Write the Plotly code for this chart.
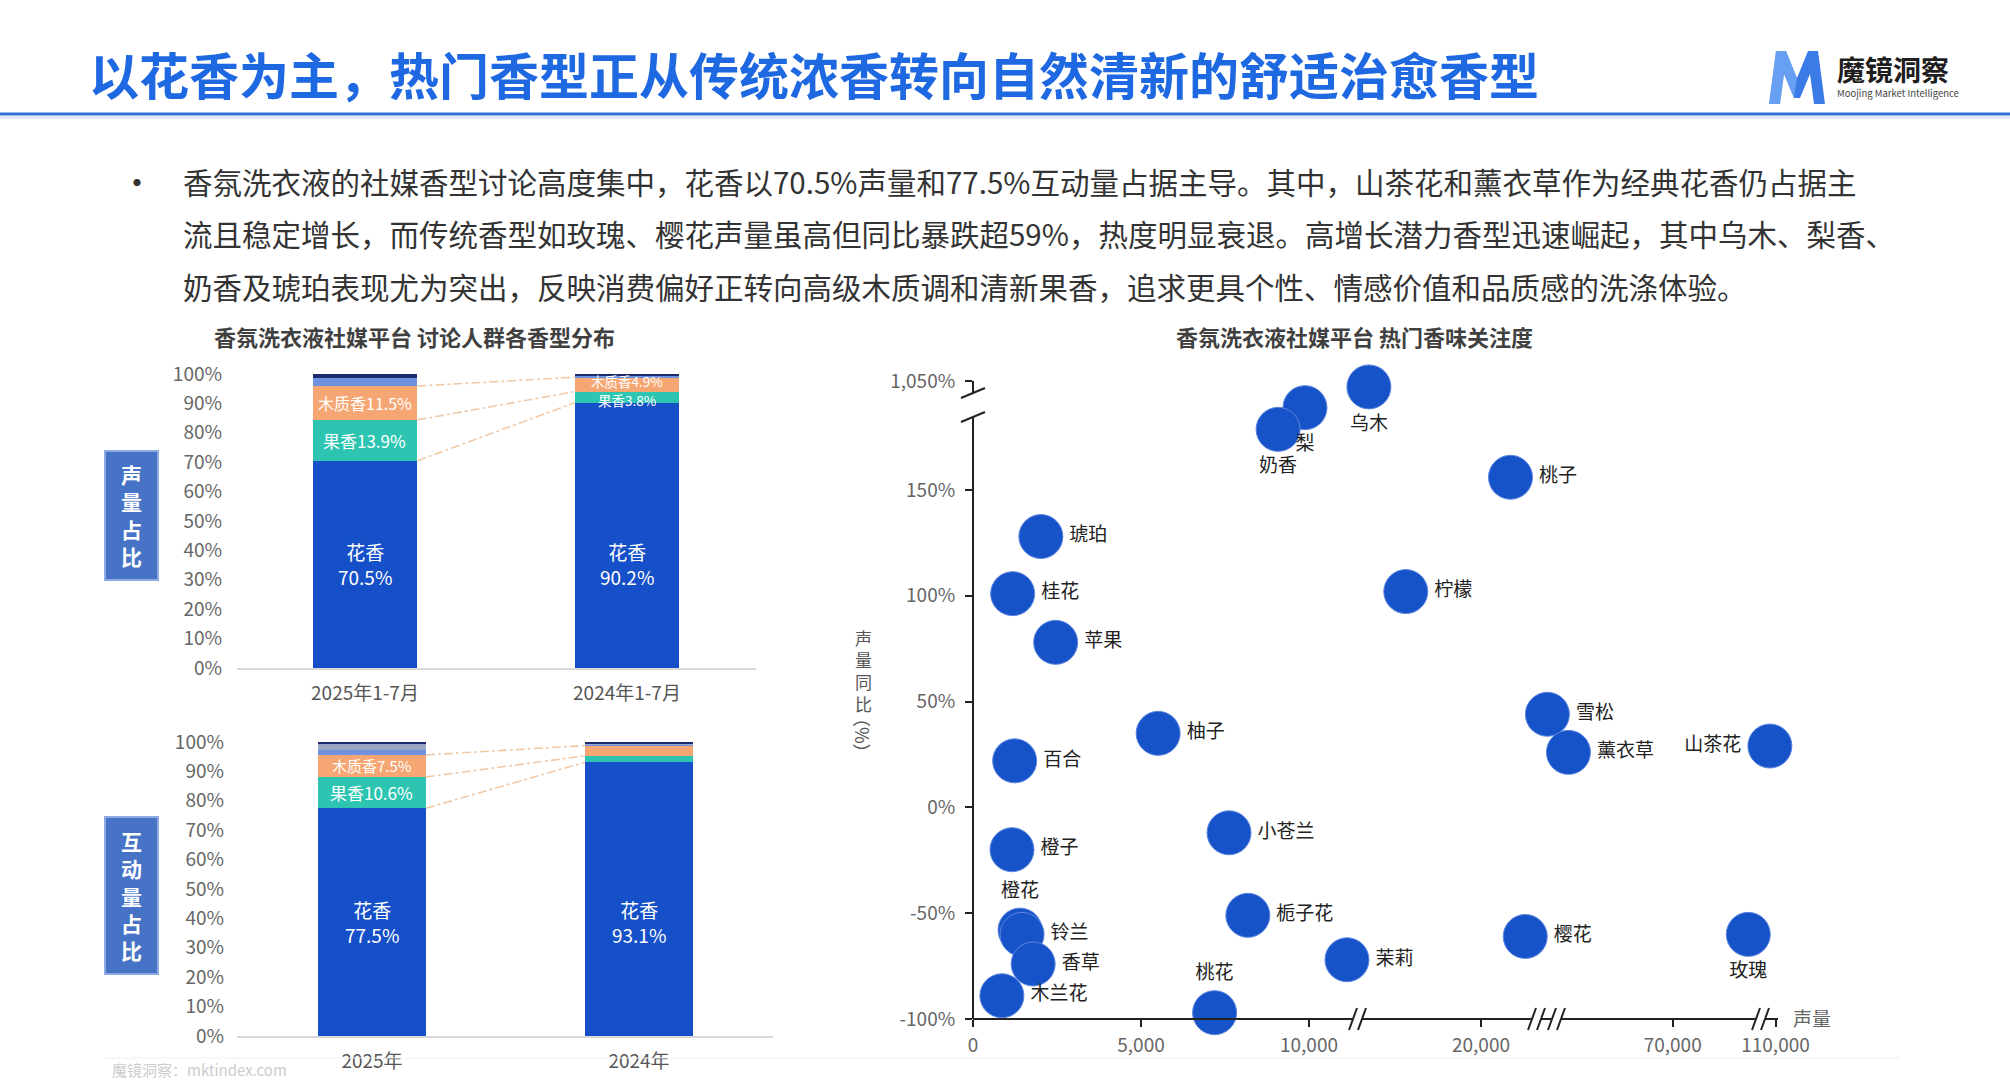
import plotly.graph_objects as go

W, H = 2010, 1080
FONT = "Noto Sans CJK SC"


def px(x):
    return x / W


def py(y):
    return 1 - y / H


# ------------------------------------------------------------------ data
title_text = "以花香为主，热门香型正从传统浓香转向自然清新的舒适治愈香型"
bullet_lines = [
    "香氛洗衣液的社媒香型讨论高度集中，花香以70.5%声量和77.5%互动量占据主导。其中，山茶花和薰衣草作为经典花香仍占据主",
    "流且稳定增长，而传统香型如玫瑰、樱花声量虽高但同比暴跌超59%，热度明显衰退。高增长潜力香型迅速崛起，其中乌木、梨香、",
    "奶香及琥珀表现尤为突出，反映消费偏好正转向高级木质调和清新果香，追求更具个性、情感价值和品质感的洗涤体验。",
]

left_title = "香氛洗衣液社媒平台 讨论人群各香型分布"
right_title = "香氛洗衣液社媒平台 热门香味关注度"

segment_names = ["花香", "果香", "木质香", "其他1", "其他2", "其他3"]

periods_voice = ["2025年1-7月", "2024年1-7月"]
voice_floral = [70.5, 90.2]
voice_fruity = [13.9, 3.8]
voice_woody = [11.5, 4.9]
voice_other1 = [2.9, 0.3]
voice_other2 = [0.0, 0.0]
voice_other3 = [1.2, 0.8]

periods_inter = ["2025年", "2024年"]
inter_floral = [77.5, 93.1]
inter_fruity = [10.6, 2.2]
inter_woody = [7.5, 3.5]
inter_other1 = [1.8, 0.2]
inter_other2 = [1.8, 0.6]
inter_other3 = [0.8, 0.4]

pct_ticks = [0, 10, 20, 30, 40, 50, 60, 70, 80, 90, 100]

scent_names = ["乌木", "梨", "奶香", "桃子", "琥珀", "桂花", "柠檬", "苹果", "雪松", "柚子",
               "山茶花", "薰衣草", "百合", "小苍兰", "橙子", "栀子花", "樱花", "玫瑰",
               "橙花", "铃兰", "香草", "茉莉", "木兰花", "桃花"]
scent_volume = [12400, 9880, 9080, 22000, 2020, 1180, 14900, 2460, 24500, 5510,
                108500, 42000, 1240, 7620, 1160, 8180, 23000, 90300,
                1400, 1460, 1790, 11130, 860, 7190]
scent_yoy = [990, 780, 560, 156, 128, 101, 102, 78, 44, 35,
             29, 26, 22, -12, -20, -51, -61, -60,
             -58, -60, -74, -72, -89, -97]

x_tick_values = [0, 5000, 10000, 20000, 70000, 110000]
x_tick_labels = ["0", "5,000", "10,000", "20,000", "70,000", "110,000"]
y_tick_values = [-100, -50, 0, 50, 100, 150, 1050]
y_tick_labels = ["-100%", "-50%", "0%", "50%", "100%", "150%", "1,050%"]


# broken-axis scales (piecewise linear)
def xpos(v):
    if v < 11800:
        return v * 0.0336
    if v < 35000:
        return 390 + (v - 12000) * 0.01475
    if v < 100000:
        return 588 + (v - 40000) * 0.003723
    return 795 + (v - 108000) * 0.00375


def ypos(v):
    return v if v <= 160 else 160 + (v - 160) * 41.5 / 890


# ------------------------------------------------------------------ styles
seg_colors = ["#1650C8", "#2DC5B1", "#F6A672", "#6F92E0", "#9AA6C6", "#1C2B6E"]
label_pos_override = {"乌木": "bottom center", "梨": "bottom center", "奶香": "bottom center",
                      "山茶花": "middle left", "玫瑰": "bottom center",
                      "橙花": "top center", "桃花": "top center"}

fig = go.Figure()
annotations = []
shapes = []


def add_stack(series, xa, ya, bw, floral_label_y, label_cfg):
    for name, vals, col in zip(segment_names, series, seg_colors):
        fig.add_trace(go.Bar(x=[0, 1], y=vals, width=bw, name=name,
                             marker=dict(color=col, line=dict(width=0)),
                             xaxis=xa, yaxis=ya, showlegend=False, hoverinfo="skip"))
    cum = []
    for i in range(2):
        c, run = [], 0
        for s in series:
            run += s[i]
            c.append(run)
        cum.append(c)
    for k in range(3):
        fig.add_trace(go.Scatter(x=[0 + bw / 2, 1 - bw / 2], y=[cum[0][k], cum[1][k]],
                                 mode="lines", line=dict(color="#F2C9A6", width=1.6, dash="dashdot"),
                                 xaxis=xa, yaxis=ya, showlegend=False, hoverinfo="skip"))
    for i in range(2):
        annotations.append(dict(x=i, y=floral_label_y, xref=xa, yref=ya, showarrow=False,
                                text=f"花香<br>{series[0][i]}%",
                                font=dict(family=FONT, size=19, color="white")))
    for (i, k, size, shift) in label_cfg:
        mid = cum[i][k] - series[k][i] / 2
        annotations.append(dict(x=i, y=mid, xref=xa, yref=ya, showarrow=False, yshift=shift,
                                text=f"{segment_names[k]}{series[k][i]}%",
                                font=dict(family=FONT, size=size, color="white")))


voice_series = [voice_floral, voice_fruity, voice_woody, voice_other1, voice_other2, voice_other3]
inter_series = [inter_floral, inter_fruity, inter_woody, inter_other1, inter_other2, inter_other3]

add_stack(voice_series, "x", "y", 0.40, voice_floral[0] / 2,
          [(0, 1, 17, 0), (0, 2, 16, 0), (1, 1, 13.5, -3), (1, 2, 13.5, 3)])
add_stack(inter_series, "x2", "y2", 0.404, inter_floral[0] / 2,
          [(0, 1, 17, 0), (0, 2, 15, 0)])

# scatter
fig.add_trace(go.Scatter(
    x=[xpos(v) for v in scent_volume], y=[ypos(v) for v in scent_yoy],
    mode="markers+text", text=scent_names,
    textposition=[label_pos_override.get(n, "middle right") for n in scent_names],
    textfont=dict(family=FONT, size=19, color="#222222"),
    marker=dict(size=44, color="#1652C8", line=dict(width=1, color="#5D86E0")),
    cliponaxis=False, xaxis="x3", yaxis="y3", showlegend=False, hoverinfo="skip"))

# ------------------------------------------------------------------ axes
tickfont = dict(family=FONT, size=19, color="#666666")
fig.update_layout(
    width=W, height=H, margin=dict(l=0, r=0, t=0, b=0, pad=0), autosize=False,
    paper_bgcolor="white", plot_bgcolor="rgba(0,0,0,0)",
    barmode="stack", showlegend=False, font=dict(family=FONT),
    xaxis=dict(domain=[px(237), px(756)], range=[-0.4885, 1.4924], anchor="y", automargin=False,
               tickvals=[0, 1], ticktext=periods_voice, ticks="", showgrid=False, zeroline=False,
               showline=True, linecolor="#D9D9D9", linewidth=2, ticklabelstandoff=7,
               tickfont=dict(family=FONT, size=19, color="#555555")),
    yaxis=dict(domain=[py(668), py(374)], range=[0, 100], anchor="x", automargin=False,
               tickvals=pct_ticks, ticktext=[f"{t}%" for t in pct_ticks], ticks="",
               showgrid=False, zeroline=False, showline=False, ticklabelstandoff=14,
               tickfont=tickfont),
    xaxis2=dict(domain=[px(237), px(773)], range=[-0.5056, 1.502], anchor="y2", automargin=False,
                tickvals=[0, 1], ticktext=periods_inter, ticks="", showgrid=False, zeroline=False,
                showline=True, linecolor="#D9D9D9", linewidth=2, ticklabelstandoff=7,
                tickfont=dict(family=FONT, size=19, color="#555555")),
    yaxis2=dict(domain=[py(1036), py(742)], range=[0, 100], anchor="x2", automargin=False,
                tickvals=pct_ticks, ticktext=[f"{t}%" for t in pct_ticks], ticks="",
                showgrid=False, zeroline=False, showline=False, ticklabelstandoff=12,
                tickfont=tickfont),
    xaxis3=dict(domain=[px(973), px(1779)], range=[0, 806], anchor="y3", automargin=False,
                tickvals=[xpos(v) for v in x_tick_values], ticktext=x_tick_labels,
                ticks="outside", ticklen=7, tickwidth=1.5, tickcolor="#222222",
                showgrid=False, zeroline=False, showline=False, ticklabelstandoff=2,
                tickfont=tickfont),
    yaxis3=dict(domain=[py(1019), py(381)], range=[-100, 201.5], anchor="x3", automargin=False,
                tickvals=[ypos(v) for v in y_tick_values], ticktext=y_tick_labels,
                ticks="outside", ticklen=7, tickwidth=1.5, tickcolor="#222222",
                showgrid=False, zeroline=False, showline=False, ticklabelstandoff=6,
                tickfont=tickfont),
)


# ------------------------------------------------------------------ decorations
def line(x0, y0, x1, y1, color="#222222", width=2):
    shapes.append(dict(type="line", xref="paper", yref="paper", x0=px(x0), y0=py(y0),
                       x1=px(x1), y1=py(y1), line=dict(color=color, width=width)))


# header rule
line(0, 114, W, 114, "#2F6FD8", 3)
line(0, 117.5, W, 117.5, "#D6E4F8", 2)
# faint footer rule
line(105, 1058, 1900, 1058, "#F0F0F0", 1)

# scatter axis lines with breaks
AX0, AY0 = 973, 1019
line(AX0, 381, AX0, 393)
line(AX0, 417, AX0, AY0)
for yb in (393, 417):
    line(AX0 - 12, yb + 5, AX0 + 12, yb - 5)
x_segments = [(AX0, 1353), (1362, 1532), (1541, 1552), (1561, 1756), (1765, 1778)]
for a, b in x_segments:
    line(a, AY0, b, AY0)
for xb in (1353, 1362, 1532, 1541, 1552, 1561, 1756, 1765):
    line(xb - 4, AY0 + 11, xb + 4, AY0 - 11)


def text(x, y, s, size, color, bold=False, xanchor="left", yanchor="middle", angle=0):
    annotations.append(dict(x=px(x), y=py(y), xref="paper", yref="paper", showarrow=False,
                            text=s, xanchor=xanchor, yanchor=yanchor, textangle=angle,
                            font=dict(family=FONT, size=size, color=color,
                                      weight="bold" if bold else "normal")))


# side boxes
for (y0, y1, chars) in [(451, 580, "声量占比"), (817, 974, "互动量占比")]:
    shapes.append(dict(type="rect", xref="paper", yref="paper", x0=px(105), x1=px(158),
                       y0=py(y1), y1=py(y0), fillcolor="#4673C6", line=dict(color="#8DAAE2", width=2)))
    text(131.5, (y0 + y1) / 2, "<br>".join(chars), 21, "white", bold=True, xanchor="center")

# logo "M"
m_pts = [(1769, 104), (1776, 51), (1786, 51), (1797, 78), (1808, 51), (1818, 51), (1825, 104),
         (1814, 104), (1810, 74), (1800, 98), (1794, 98), (1784, 74), (1780, 104)]
path = "M " + " L ".join(f"{px(x):.5f},{py(y):.5f}" for x, y in m_pts) + " Z"
shapes.append(dict(type="path", xref="paper", yref="paper", path=path,
                   fillcolor="#3B7BE8", line=dict(width=0)))
m_hi = [(1776, 51), (1786, 51), (1797, 78), (1794, 98), (1784, 74), (1780, 104), (1769, 104)]
path2 = "M " + " L ".join(f"{px(x):.5f},{py(y):.5f}" for x, y in m_hi) + " Z"
shapes.append(dict(type="path", xref="paper", yref="paper", path=path2,
                   fillcolor="rgba(140,190,250,0.55)", line=dict(width=0)))

text(87, 73, title_text, 50, "#1E68E2", bold=True)
text(1835, 69, "魔镜洞察", 28, "#1E1E1E", bold=True)
text(1835, 93, "Moojing Market Intelligence", 9.5, "#444444")

text(137, 181, "•", 34, "#333333", xanchor="center")
for i, ln in enumerate(bullet_lines):
    text(181, 181 + i * 52.5, ln, 29.5, "#333333")

text(414, 336, left_title, 22, "#404040", bold=True, xanchor="center")
text(1354, 336, right_title, 22, "#404040", bold=True, xanchor="center")

text(863, 670, "<br>".join("声量同比"), 17, "#555555", xanchor="center")
text(863, 735, "（%）", 18, "#555555", xanchor="center", angle=90)
text(1812, 1017, "声量", 19, "#666666", xanchor="center")

text(110, 1069, "魔镜洞察：mktindex.com", 15, "#CCCCCC")

fig.update_layout(annotations=annotations, shapes=shapes)
fig.write_html("out.html",
               post_script="document.body.style.margin='0';document.body.style.overflow='hidden';")
